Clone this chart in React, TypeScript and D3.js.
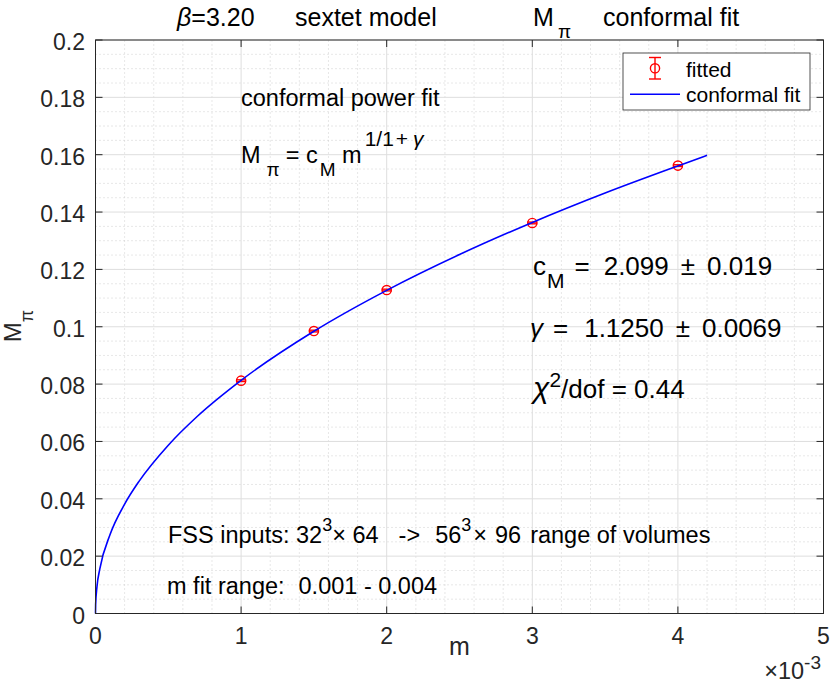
import React from 'react';
import * as d3 from 'd3';

// ---- data ----
const massValues = [0.001, 0.0015, 0.002, 0.003, 0.004];
const mpiValues = [0.0812, 0.0985, 0.1128, 0.1362, 0.1562];
const mpiErrors = [0.0003, 0.0003, 0.0003, 0.0003, 0.0003];

const fitMass = [0, 0.000001, 0.00001, 0.00003, 0.0001, 0.0002, 0.0003, 0.0005, 0.0007, 0.001, 0.0015, 0.002, 0.0025, 0.003, 0.0035, 0.004, 0.0042];
const fitMpi = [0, 0.00315, 0.00931, 0.01562, 0.02752, 0.03814, 0.04617, 0.0587, 0.06878, 0.0813, 0.09842, 0.1127, 0.12518, 0.13639, 0.14665, 0.1561, 0.15978];

const xTicks = [0, 0.001, 0.002, 0.003, 0.004, 0.005];
const xTickLabels = ['0', '1', '2', '3', '4', '5'];
const yTicks = [0, 0.02, 0.04, 0.06, 0.08, 0.1, 0.12, 0.14, 0.16, 0.18, 0.2];
const yTickLabels = ['0', '0.02', '0.04', '0.06', '0.08', '0.1', '0.12', '0.14', '0.16', '0.18', '0.2'];
const xMinorStep = 0.0002;
const yMinorStep = 0.005;

const W = 830;
const H = 683;
const FONT = "'Liberation Sans', Arial, Helvetica, sans-serif";
const AX = '#262626';

export default function App() {
  const x = d3.scaleLinear().domain([0, 0.005]).range([95.5, 823.5]);
  const y = d3.scaleLinear().domain([0, 0.2]).range([613.5, 40]);
  const [x0, x1] = x.range();
  const [y0, y1] = y.range();

  const xMinor = d3.range(0, 0.005 + 1e-12, xMinorStep).filter((v) => Math.abs(v / 0.001 - Math.round(v / 0.001)) > 1e-6);
  const yMinor = d3.range(0, 0.2 + 1e-12, yMinorStep).filter((v) => Math.abs(v / 0.02 - Math.round(v / 0.02)) > 1e-6);

  const line = d3
    .line<number>()
    .x((_, i) => x(fitMass[i]))
    .y((d) => y(d))
    .curve(d3.curveMonotoneX);

  const tickLen = 7;

  return (
    <svg
      width={W}
      height={H}
      viewBox={`0 0 ${W} ${H}`}
      style={{ position: 'absolute', left: 0, top: 0, background: '#fff' }}
      fontFamily={FONT}
    >
      <rect x={0} y={0} width={W} height={H} fill="#fff" />
      {/* minor grid */}
      <g stroke="#c4c4c4" strokeWidth={0.8} strokeDasharray="1,3">
        {xMinor.map((v, i) => (
          <line key={'xm' + i} x1={x(v)} x2={x(v)} y1={y0} y2={y1} />
        ))}
        {yMinor.map((v, i) => (
          <line key={'ym' + i} x1={x0} x2={x1} y1={y(v)} y2={y(v)} />
        ))}
      </g>
      {/* major grid */}
      <g stroke="#dedede" strokeWidth={1}>
        {xTicks.map((v, i) => (
          <line key={'xg' + i} x1={x(v)} x2={x(v)} y1={y0} y2={y1} />
        ))}
        {yTicks.map((v, i) => (
          <line key={'yg' + i} x1={x0} x2={x1} y1={y(v)} y2={y(v)} />
        ))}
      </g>

      {/* error bars + markers */}
      <g stroke="#ff0000" strokeWidth={1.4} fill="none">
        {massValues.map((m, i) => {
          const cx = x(m);
          const ya = y(mpiValues[i] + mpiErrors[i]);
          const yb = y(mpiValues[i] - mpiErrors[i]);
          return (
            <g key={'p' + i}>
              <line x1={cx} x2={cx} y1={ya} y2={yb} />
              <line x1={cx - 5} x2={cx + 5} y1={ya} y2={ya} />
              <line x1={cx - 5} x2={cx + 5} y1={yb} y2={yb} />
              <circle cx={cx} cy={y(mpiValues[i])} r={4.6} />
            </g>
          );
        })}
      </g>

      {/* fit curve */}
      <path d={line(fitMpi) || ''} fill="none" stroke="#0000ff" strokeWidth={1.6} />

      {/* axes box */}
      <rect x={x0} y={y1} width={x1 - x0} height={y0 - y1} fill="none" stroke={AX} strokeWidth={1} />
      <g stroke={AX} strokeWidth={1}>
        {xTicks.map((v, i) => (
          <g key={'xt' + i}>
            <line x1={x(v)} x2={x(v)} y1={y0} y2={y0 - tickLen} />
            <line x1={x(v)} x2={x(v)} y1={y1} y2={y1 + tickLen} />
          </g>
        ))}
        {yTicks.map((v, i) => (
          <g key={'yt' + i}>
            <line x1={x0} x2={x0 + tickLen} y1={y(v)} y2={y(v)} />
            <line x1={x1} x2={x1 - tickLen} y1={y(v)} y2={y(v)} />
          </g>
        ))}
      </g>

      {/* tick labels */}
      <g fill={AX} fontSize={23}>
        {xTicks.map((v, i) => (
          <text key={'xl' + i} x={x(v)} y={644} textAnchor="middle">
            {xTickLabels[i]}
          </text>
        ))}
        {yTicks.map((v, i) => (
          <text key={'yl' + i} x={85} y={y(v) + 10} textAnchor="end">
            {yTickLabels[i]}
          </text>
        ))}
      </g>
      <text x={821} y={679} fontSize={23.5} fill={AX} textAnchor="end">
        ×10<tspan fontSize={19} dy={-10}>-3</tspan>
      </text>

      {/* axis labels */}
      <text x={459.5} y={655} textAnchor="middle" fontSize={25} fill={AX}>m</text>
      <g transform="translate(21,326) rotate(-90)">
        <text x={0} y={0} textAnchor="middle" fontSize={24} fill={AX}>
          M<tspan fontSize={18} dy={12}>π</tspan>
        </text>
      </g>

      {/* title */}
      <g fontSize={25} fill="#000">
        <text x={177} y={26}>
          <tspan fontStyle="italic">β</tspan>=3.20
        </text>
        <text x={295} y={26}>sextet model</text>
        <text x={533} y={26}>M</text>
        <text x={558} y={38} fontSize={19}>π</text>
        <text x={603} y={26}>conformal fit</text>
      </g>

      {/* annotations */}
      <g fill="#000">
        <text x={241} y={106} fontSize={23.5}>conformal power fit</text>
        <text x={241} y={163} fontSize={23.5}>
          M
          <tspan fontSize={19} dx={6} dy={13}>π</tspan>
          <tspan dx={6} dy={-13}>= c</tspan>
          <tspan fontSize={19} dx={2} dy={13}>M</tspan>
          <tspan dy={-13}> m</tspan>
          <tspan fontSize={21} dx={3} dy={-17}>1/1</tspan>
          <tspan fontSize={21} dx={2}>+</tspan>
          <tspan fontSize={21} dx={5} fontStyle="italic">γ</tspan>
        </text>

        <text x={533} y={275} fontSize={26}>
          c<tspan fontSize={21} dx={1} dy={13}>M</tspan>
          <tspan dx={10} dy={-13}>=</tspan>
          <tspan dx={14}>2.099</tspan>
          <tspan dx={12}>±</tspan>
          <tspan dx={12}>0.019</tspan>
        </text>
        <text x={530} y={337} fontSize={26}>
          <tspan fontStyle="italic">γ</tspan>
          <tspan dx={10}>=</tspan>
          <tspan dx={16}>1.1250</tspan>
          <tspan dx={12}>±</tspan>
          <tspan dx={12}>0.0069</tspan>
        </text>
        <text x={533} y={398} fontSize={26}>
          <tspan fontStyle="italic" fontSize={30}>χ</tspan>
          <tspan fontSize={21} dy={-11}>2</tspan>
          <tspan dy={11}>/dof = 0.44</tspan>
        </text>

        <text x={168} y={543} fontSize={23.5}>
          FSS inputs: 32<tspan fontSize={18} dy={-12}>3</tspan>
          <tspan dy={12}>× 64</tspan>
          <tspan dx={20}>-&gt;</tspan>
          <tspan dx={15}>56</tspan>
          <tspan fontSize={18} dy={-12}>3</tspan>
          <tspan dx={2} dy={12}>×</tspan>
          <tspan dx={8}>96</tspan>
          <tspan dx={9}>range of volumes</tspan>
        </text>
        <text x={167} y={594} fontSize={23.5}>
          m fit range:<tspan dx={14}>0.001 - 0.004</tspan>
        </text>
      </g>

      {/* legend */}
      <g>
        <rect x={623} y={53} width={187} height={57} fill="#fff" stroke={AX} strokeWidth={0.8} />
        <g stroke="#ff0000" strokeWidth={1.4} fill="none">
          <line x1={655} x2={655} y1={57.5} y2={79} />
          <line x1={649} x2={661} y1={57.5} y2={57.5} />
          <line x1={649} x2={661} y1={79} y2={79} />
          <circle cx={655} cy={68.3} r={4.6} />
        </g>
        <line x1={630} x2={680} y1={94.3} y2={94.3} stroke="#0000ff" strokeWidth={1.6} />
        <text x={686} y={76.5} fontSize={21} fill="#000">fitted</text>
        <text x={686} y={101.5} fontSize={21} fill="#000">conformal fit</text>
      </g>
    </svg>
  );
}
